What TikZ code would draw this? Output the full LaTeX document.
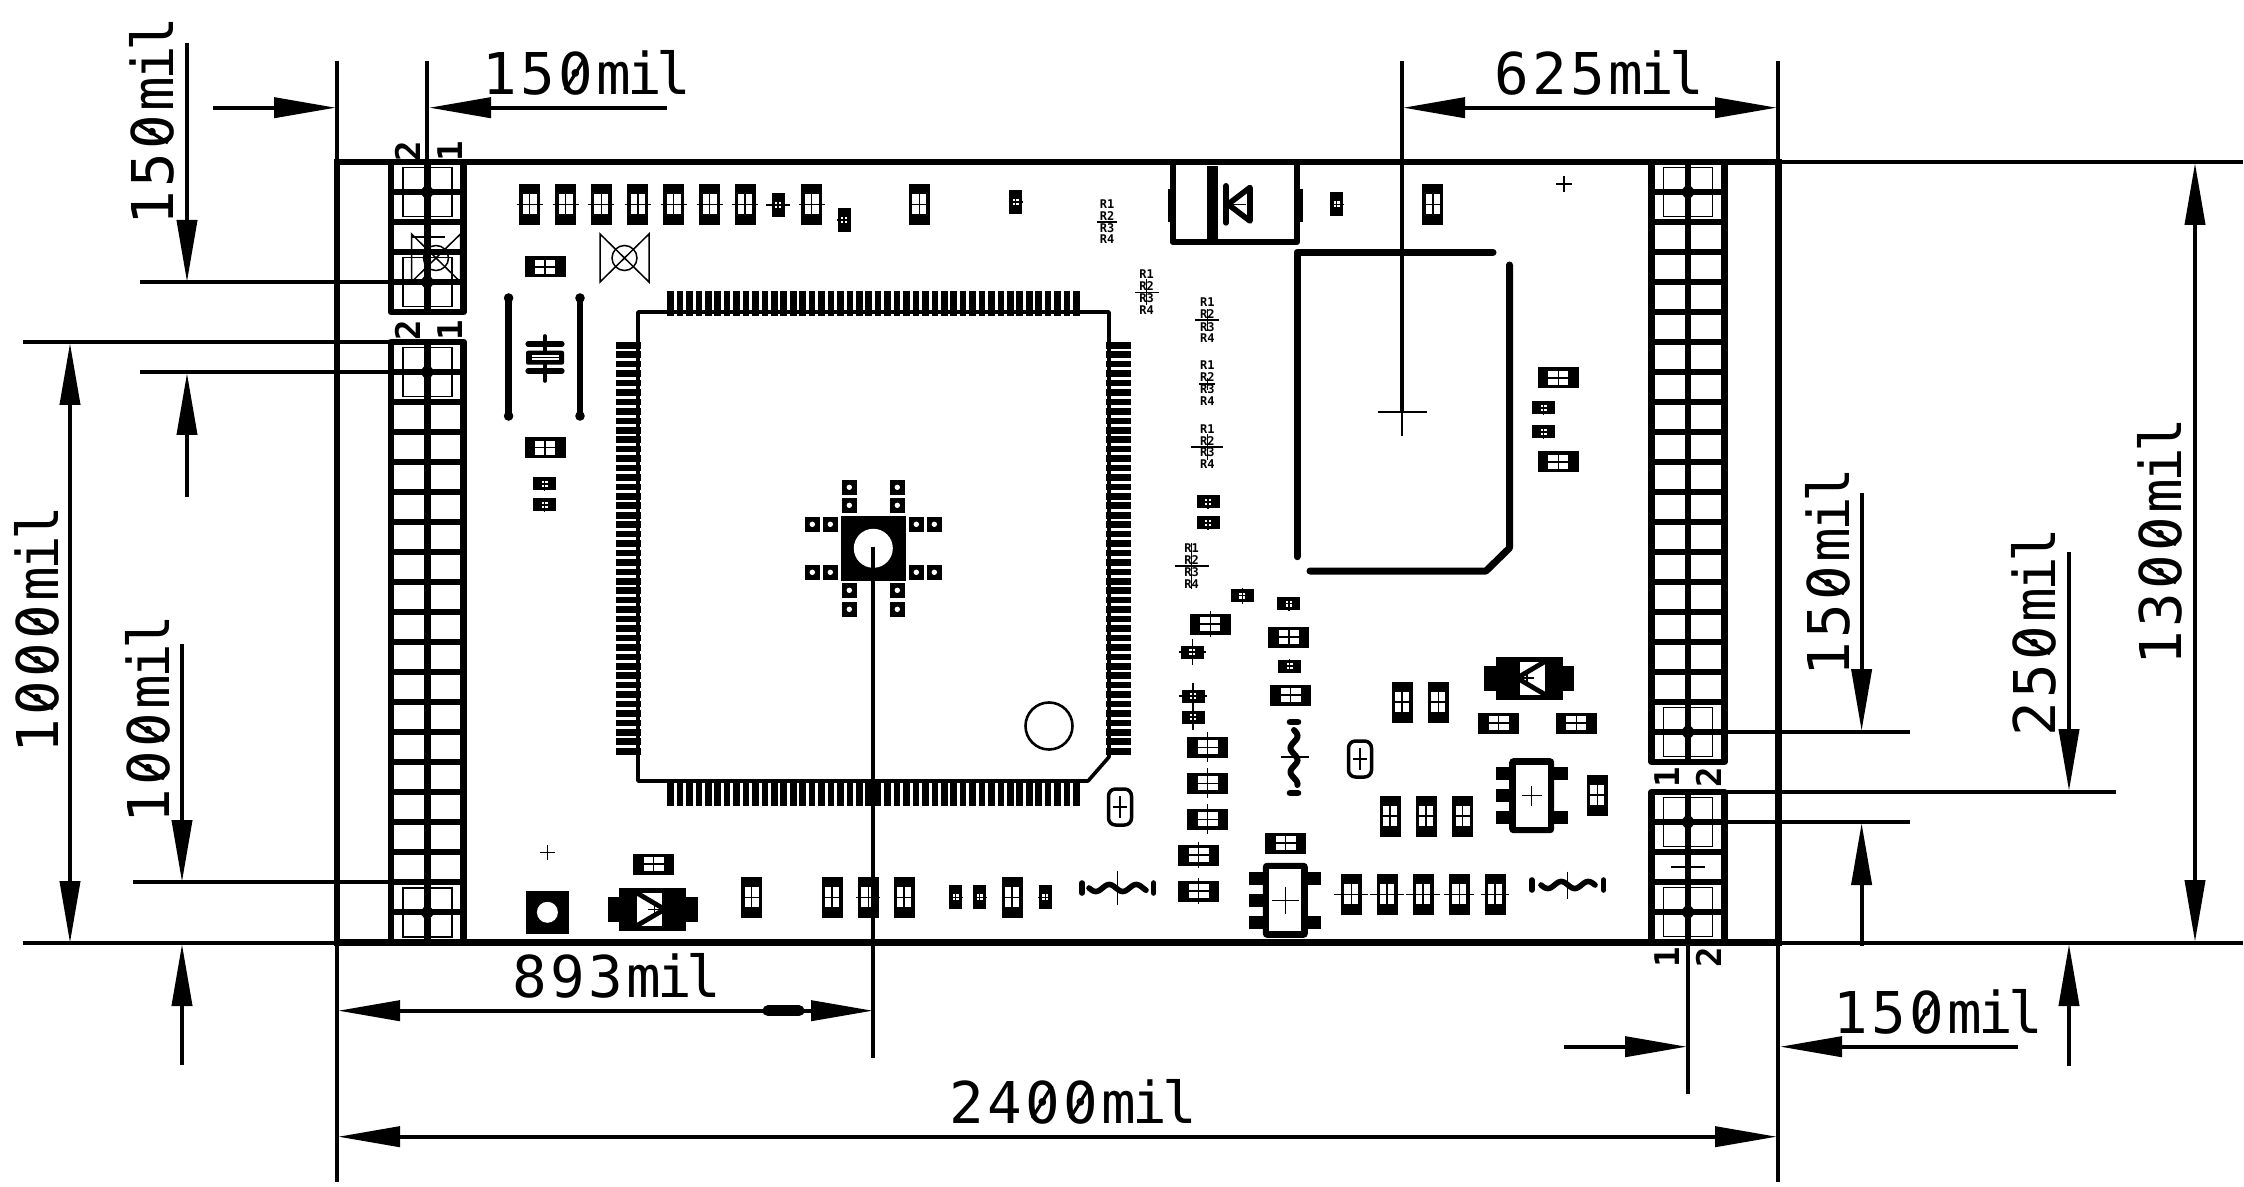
\documentclass[tikz,border=0pt]{standalone}
\usepackage{fontspec}
\usetikzlibrary{arrows.meta}
\newfontfamily\dimfont{DejaVu Sans Mono}
\newcommand{\dk}{\kern1.7pt }
\newcommand{\mk}{\kern-2pt }
\newcommand{\ik}{\kern-2.5pt }
\tikzset{
  x=0.5pt,y=-0.5pt,
  thinline/.style={line width=0.75pt},
  dimline/.style={line width=2pt},
  board/.style={line width=3.2pt,line join=miter},
  frame/.style={line width=3.35pt,line join=round},
  heavy/.style={line width=3.5pt,line cap=round,line join=miter},
  dimtext/.style={inner sep=0pt,anchor=base west,font=\dimfont\fontsize{28.8}{30}\selectfont},
  pintext/.style={inner sep=0pt,anchor=base west,rotate=90,font=\dimfont\bfseries\fontsize{17}{18}\selectfont},
  rtext/.style={inner sep=0pt,font=\dimfont\bfseries\fontsize{6}{6.5}\selectfont},
  headst/.style={-{Triangle[length=31pt,width=10pt]}},
  headsb/.style={{Triangle[length=31pt,width=10pt]}-{Triangle[length=31pt,width=10pt]}},
}
\newcommand{\zslash}[4]{% base x, base y, rotation, digit index
  \begin{scope}[shift={(#1,#2)},rotate=#3]
    \draw[line width=1.6pt] ({#4*38.07+7},-5) -- ({#4*38.07+27},-37);
  \end{scope}}
\newcommand{\crossmark}[4]{\draw[thinline] (#1-#3,#2) -- (#1+#3,#2) (#1,#2-#4) -- (#1,#2+#4);}
\newcommand{\vchip}[3][8]{\begin{scope}[shift={(#2,#3)}]
  \fill (-10.5,-20.5) rectangle (10.5,20.5);
  \fill[white] (-7,-10) rectangle (7,10);
  \draw[line width=0.75pt] (-#1,0) -- (#1,0) (0,-10) -- (0,10);
\end{scope}}
\newcommand{\hchip}[3][8]{\begin{scope}[shift={(#2,#3)}]
  \fill (-20.5,-10.5) rectangle (20.5,10.5);
  \fill[white] (-10,-7) rectangle (10,7);
  \draw[line width=0.75pt] (-10,0) -- (10,0) (0,-#1) -- (0,#1);
\end{scope}}
\newcommand{\vsmall}[3][7]{\begin{scope}[shift={(#2,#3)}]
  \fill (-6.5,-12) rectangle (6.5,12);
  \fill[white] (-3,-3) rectangle (3,3);
  \draw[thinline] (-#1,0) -- (#1,0) (0,-3) -- (0,3);
\end{scope}}
\newcommand{\hsmall}[3][7]{\begin{scope}[shift={(#2,#3)}]
  \fill (-11.5,-6.5) rectangle (11.5,6.5);
  \fill[white] (-3,-3) rectangle (3,3);
  \draw[thinline] (-3,0) -- (3,0) (0,-#1) -- (0,#1);
\end{scope}}
\newcommand{\pinframe}[3]{% xleft, ytop, rows
  \pgfmathsetmacro{\ybot}{#2+30*#3}
  \draw[frame] (#1,#2) rectangle (#1+72.6,\ybot);
  \draw[frame] (#1+36.3,#2) -- (#1+36.3,\ybot);
  \foreach \k in {1,...,#3}{\draw[frame] (#1,{#2+30*\k}) -- (#1+72.6,{#2+30*\k});}
}
\newcommand{\twopad}[2]{% centre of the pair
  \draw[thinline] (#1-24.5,#2-24.5) rectangle (#1+24.5,#2+24.5);
  \draw[thinline] (#1,#2-8) -- (#1+7,#2) -- (#1,#2+8) -- (#1-7,#2) -- cycle;
}
\newcommand{\fidmark}[2]{% bow tie with a circle
  \draw[thinline] (#1-24.5,#2-24) -- (#1-24.5,#2+24) -- (#1+24.5,#2-24) -- (#1+24.5,#2+24) -- cycle;
  \draw[thinline] (#1,#2) circle[radius=12.5];
}
\newcommand{\melf}[3]{\begin{scope}[shift={(#1,#2)},xscale=#3]
  \fill (-33.5,-21.5) rectangle (33.5,21.5);
  \fill (-45,-12.5) rectangle (45,12.5);
  \fill[white] (-16,-16.5) rectangle (9,16.5);
  \draw[line width=2.4pt] (-16,-16.5) -- (12,0) -- (-16,16.5);
  \draw[thinline] (-5,0) -- (9,0) (2,-6) -- (2,6);
\end{scope}}
\newcommand{\sot}[3]{\begin{scope}[shift={(#1,#2)}]
  \fill[rounded corners=2pt] (-22.5,-37.5) rectangle (22.5,37.5);
  \fill[white] (-16,-31) rectangle (16,31);
  \fill (-36,-28.5) rectangle (-22,-15.5);
  \fill (-36,-6.5) rectangle (-22,6.5);
  \fill (-36,15.5) rectangle (-22,28.5);
  \fill (22,-28.5) rectangle (36,-15.5);
  \fill (22,15.5) rectangle (36,28.5);
  \draw[thinline] (-#3,0) -- (#3,0) (0,-#3) -- (0,#3);
\end{scope}}
\newcommand{\capsule}[2]{
  \draw[line width=1.75pt,rounded corners=3.5pt] (#1-11.5,#2-18) rectangle (#1+11.5,#2+18);
  \crossmark{#1}{#2}{7}{11}
}
\newcommand{\viapad}[2]{
  \fill (#1-7.5,#2-7.5) rectangle (#1+7.5,#2+7.5);
  \fill[white] (#1,#2) circle[radius=2.7];
}
\newcommand{\rcluster}[6]{% id, x, y1..y4
  \node[rtext] (rc#1a) at (#2,#3) {R1};
  \node[rtext] (rc#1b) at (#2,#4) {R2};
  \node[rtext] (rc#1c) at (#2,#5) {R3};
  \node[rtext] (rc#1d) at (#2,#6) {R4};
}
\newcommand{\hwig}[4]{% x0, x1, y, period
  \draw[line width=2.8pt,line cap=round] plot[domain=#1:#2,samples=50,smooth] (\x,{#3+3.5*sin((\x-#1)/#4*360)});
}
\begin{document}
\begin{tikzpicture}
\useasboundingbox (0,0) rectangle (2244,1187);
\fill[white] (0,0) rectangle (2244,1187);

% ---- thin pad rectangles in the headers
\twopad{427.3}{192} \twopad{427.3}{282} \twopad{427.3}{372} \twopad{427.3}{912.5}
\twopad{1688}{192} \twopad{1688}{732} \twopad{1688}{822} \twopad{1688}{912}
\draw[thinline] (1671,867) -- (1705,867);
\fidmark{436}{258}
\draw[thinline] (411,237) -- (445,237);
\fidmark{624.5}{258}

% ---- headers
\pinframe{391}{162}{5}
\pinframe{391}{342}{20}
\pinframe{1651.7}{162}{20}
\pinframe{1651.7}{792}{5}

% ---- board
\draw[board] (337,162) rectangle (1778.5,942.5);

% ---- pin numbers
\node[pintext] (pa) at (420,162) {2};
\node[pintext] (pb) at (462,162) {1};
\node[pintext] (pc) at (420,341) {2};
\node[pintext] (pd) at (462,341) {1};
\node[pintext] (pe) at (1679,788) {1};
\node[pintext] (pf) at (1721,788) {2};
\node[pintext] (pg) at (1679,968) {1};
\node[pintext] (ph) at (1721,968) {2};

% ---- main IC
\draw[line width=1.8pt,line join=round] (638,312) -- (1109,312) -- (1109,757) -- (1088,781) -- (638,781) -- cycle;
\foreach \i in {0,...,43}{
  \pgfmathsetmacro{\p}{670.5+9.44*\i}
  \pgfmathsetmacro{\q}{345.3+9.44*\i}
  \fill (\p-3.3,291) rectangle (\p+3.3,316);
  \fill (\p-3.3,781) rectangle (\p+3.3,806);
  \fill (616,\q-3.3) rectangle (641,\q+3.3);
  \fill (1106,\q-3.3) rectangle (1131,\q+3.3);
}
\draw[line width=1.3pt] (1049,726) circle[radius=23.5];

% ---- centre pad and vias
\fill (841,516) rectangle (906,581);
\fill[white] (873.3,548.3) circle[radius=19.5];
\foreach \a in {812.3,830.3,916.3,934.3}{\foreach \b in {524.3,572.3}{\viapad{\a}{\b}}}
\foreach \a in {849.3,897.3}{\foreach \b in {487.3,505.3,590.3,609.3}{\viapad{\a}{\b}}}

% ---- top row of parts
\foreach \a in {529.6,565.5,601.4,637.8,673.6,709.5,745,811.7}{\vchip[13]{\a}{204.5}}
\vchip[7]{919.4}{204.5}
\vchip[7]{1432.8}{204.5}
\vsmall[12]{778}{205}
\vsmall{844}{220}
\vsmall{1015.5}{202}
\vsmall{1336.6}{204.5}

% ---- left column
\hchip{545}{267}
\hchip{545}{447.7}
\hsmall{544.5}{484}
\hsmall{544.5}{505}
\draw[line width=3.2pt] (508.6,298) -- (508.6,416);
\draw[line width=3.2pt] (580,298) -- (580,416);
\foreach \a in {508.6,580}{\foreach \b in {298,416}{\fill (\a,\b) circle[radius=4.8];}}
\draw[line width=1.8pt,line cap=round] (545,336) -- (545,381);
\draw[line width=2.6pt,line cap=round] (528,344) -- (562,344);
\draw[line width=2.6pt,line cap=round] (528,371) -- (562,371);
\fill[rounded corners=1pt] (526,350.7) rectangle (564,364.7);
\fill[white] (532,355.5) rectangle (559,360);
\draw[thinline] (532,357.7) -- (559,357.7);

% ---- R clusters
\rcluster{1}{1107}{204}{216}{228}{239}
\draw[thinline] (1097,222) -- (1117,222);
\rcluster{2}{1146.6}{274}{286}{298}{310}
\crossmark{1146.6}{292.5}{12}{13}
\rcluster{3}{1207.4}{302}{314}{327}{338}
\crossmark{1207.4}{320}{12}{11}
\rcluster{4}{1207.4}{365}{377}{389}{401}
\crossmark{1207.4}{384}{8}{6}
\rcluster{5}{1207.4}{429}{441}{452}{464}
\crossmark{1207.4}{447}{16}{13}
\rcluster{6}{1191.6}{548}{560}{572}{584}
\crossmark{1191.6}{566}{17}{23}

% ---- top diode
\draw[line width=3pt,line join=round] (1172.5,165) -- (1172.5,242) -- (1297,242) -- (1297,165);
\fill (1168,189) rectangle (1173,222);
\fill (1297,189) rectangle (1303,222);
\fill (1207,166) rectangle (1217.5,245);
\draw[line width=3pt,line cap=round] (1226,186) -- (1226,222.7);
\draw[line width=2.8pt,line join=round] (1228,204.3) -- (1250,187.5) -- (1250,221) -- cycle;
\draw[thinline] (1232,204.3) -- (1246,204.3);

% ---- module outline
\draw[heavy,line join=round] (1493,252.3) -- (1297,252.3) -- (1297,556.7);
\draw[heavy,line join=round] (1509.5,265) -- (1509.5,548) -- (1486,571) -- (1310,571);

% ---- right of module
\hchip{1558.4}{378}
\hchip{1558.4}{462}
\hsmall{1543.7}{408}
\hsmall{1543.7}{432}
\crossmark{1564}{184}{8}{8}

% ---- centre column
\hsmall{1208}{502}
\hsmall{1208}{523}
\hsmall[8]{1242.4}{595.7}
\hsmall{1288.8}{603.7}
\hchip[13]{1210.3}{624}
\hchip{1288.8}{637}
\hsmall[13]{1192.4}{652}
\draw[thinline] (1179,652) -- (1206,652);
\hsmall{1289.7}{666}
\hchip{1290.6}{695}
\hsmall[13]{1193}{696}
\draw[thinline] (1179,696) -- (1207,696);
\hsmall[13]{1193}{717}
\foreach \b in {747.3,783.3,819.3}{\hchip[15]{1207.6}{\b}}
\hchip[13]{1198.7}{855}
\hchip[13]{1198.7}{891}
\hchip{1285.7}{843}

% ---- vertical inductor
\draw[line width=3.3pt,line cap=round] (1290,722) -- (1298,722);
\draw[line width=3.3pt,line cap=round] (1290,793) -- (1298,793);
\draw[line width=3pt,line cap=round] plot[domain=730:785,samples=50,smooth] ({1294+3.5*sin((\x-730)/24*360)},\x);
\crossmark{1295}{757}{14}{0}
% ---- lower inductors
\draw[line width=2.8pt,line cap=round] (1531.7,880) -- (1531.7,890);
\draw[line width=2.8pt,line cap=round] (1603.6,880) -- (1603.6,890);
\hwig{1541}{1595}{885}{27}
\crossmark{1567.4}{885}{0}{13.5}
\draw[line width=2.8pt,line cap=round] (1082,883) -- (1082,893);
\draw[line width=2.8pt,line cap=round] (1153.6,883) -- (1153.6,893);
\hwig{1089}{1146}{888}{27}
\crossmark{1117.4}{888}{0}{17}

% ---- capsules
\capsule{1360}{759}
\capsule{1120}{807}

% ---- right group
\melf{1529}{678}{-1}
\vchip{1402}{702}
\vchip{1438.4}{702}
\hchip{1498.7}{723}
\hchip{1576.3}{723}
\sot{1531.7}{795.7}{10}
\vchip{1597.3}{795}
\foreach \a in {1390,1426,1462.5}{\vchip{\a}{816}}
\sot{1285.3}{900.3}{13.5}
\vchip[17]{1351.3}{894.3}
\vchip[17]{1387}{894.3}
\vchip[17]{1423}{894.3}
\vchip[15]{1459.4}{894.3}
\vchip[14]{1495}{894.3}

% ---- bottom row
\fill (526,891) rectangle (569,933.7);
\fill[white] (547.4,912.3) circle[radius=10.5];
\crossmark{547.4}{852.3}{7.5}{7.5}
\melf{652.6}{909.3}{1}
\hchip{653.6}{864}
\vchip{751.5}{897.3}
\vchip{832}{897.3}
\vchip[12]{868.4}{897.3}
\vchip{904}{897.3}
\vsmall{955.6}{897.3}
\vsmall{979.6}{897.3}
\vchip{1012}{897.3}
\vsmall{1045.4}{897.3}

% ---- extension lines
\draw[dimline] (337,61) -- (337,162);
\draw[dimline] (337,943) -- (337,1182);
\draw[dimline] (427,61) -- (427,170);
\draw[dimline] (1778,61) -- (1778,162);
\draw[dimline] (1778,943) -- (1778,1182);
\draw[dimline] (1402,61) -- (1402,412);
\crossmark{1402}{412}{24.5}{24}
\draw[dimline] (873,546.7) -- (873,1058);
\draw[dimline] (1688,945) -- (1688,1094);
\draw[dimline] (140,282) -- (427,282);
\draw[dimline] (23,342) -- (427,342);
\draw[dimline] (140,372) -- (427,372);
\draw[dimline] (133,882) -- (427,882);
\draw[dimline] (23,943) -- (337,943);
\draw[dimline] (1778,162) -- (2243,162);
\draw[dimline] (1778,943) -- (2243,943);
\draw[dimline] (1688,732) -- (1910,732);
\draw[dimline] (1688,792) -- (2116,792);
\draw[dimline] (1688,822) -- (1910,822);

% ---- dimension arrows
\draw[dimline,headst] (213,107.7) -- (336,107.7);
\draw[dimline,headst] (667,107.7) -- (429,107.7);
\draw[dimline,headsb] (1403,107.7) -- (1777,107.7);
\draw[dimline,headst] (187,43) -- (187,282);
\draw[dimline,headst] (187,497) -- (187,373);
\draw[dimline,headst] (182,644) -- (182,882);
\draw[dimline,headst] (182,1065) -- (182,944);
\draw[dimline,headsb] (70,343) -- (70,943);
\draw[dimline,headsb] (338,1010.7) -- (873,1010.7);
\draw[line width=5.5pt,line cap=round] (768,1010.7) -- (799,1010.7);
\draw[dimline,headsb] (338,1136.7) -- (1777,1136.7);
\draw[dimline,headst] (1564,1046.7) -- (1687,1046.7);
\draw[dimline,headst] (2018,1046.7) -- (1780,1046.7);
\draw[dimline,headsb] (2195,163) -- (2195,942);
\draw[dimline,headst] (1861.6,493) -- (1861.6,731);
\draw[dimline,headst] (1861.6,946) -- (1861.6,823);
\draw[dimline,headst] (2069,552) -- (2069,791);
\draw[dimline,headst] (2069,1066) -- (2069,944);

% ---- dimension texts
\node[dimtext] (ta) at (482,95) {1\dk 5\dk 0\dk m\mk i\ik l};
\zslash{482}{95}{0}{2}
\node[dimtext,rotate=90] (tb) at (173,226) {1\dk 5\dk 0\dk m\mk i\ik l};
\zslash{173}{226}{90}{2}
\node[dimtext] (tc) at (1494,95) {6\dk 2\dk 5\dk m\mk i\ik l};
\node[dimtext,rotate=90] (td) at (58,754) {1\dk 0\dk 0\dk 0\dk m\mk i\ik l};
\zslash{58}{754}{90}{1}\zslash{58}{754}{90}{2}\zslash{58}{754}{90}{3}
\node[dimtext,rotate=90] (te) at (169,824) {1\dk 0\dk 0\dk m\mk i\ik l};
\zslash{169}{824}{90}{1}\zslash{169}{824}{90}{2}
\node[dimtext] (tf) at (512,997) {8\dk 9\dk 3\dk m\mk i\ik l};
\node[dimtext] (tg) at (949,1123) {2\dk 4\dk 0\dk 0\dk m\mk i\ik l};
\zslash{949}{1123}{0}{2}\zslash{949}{1123}{0}{3}
\node[dimtext] (th) at (1833,1033) {1\dk 5\dk 0\dk m\mk i\ik l};
\zslash{1833}{1033}{0}{2}
\node[dimtext,rotate=90] (ti) at (1849,677) {1\dk 5\dk 0\dk m\mk i\ik l};
\zslash{1849}{677}{90}{2}
\node[dimtext,rotate=90] (tj) at (2055,737) {2\dk 5\dk 0\dk m\mk i\ik l};
\zslash{2055}{737}{90}{2}
\node[dimtext,rotate=90] (tk) at (2181,666) {1\dk 3\dk 0\dk 0\dk m\mk i\ik l};
\zslash{2181}{666}{90}{2}\zslash{2181}{666}{90}{3}
\end{tikzpicture}
\end{document}
